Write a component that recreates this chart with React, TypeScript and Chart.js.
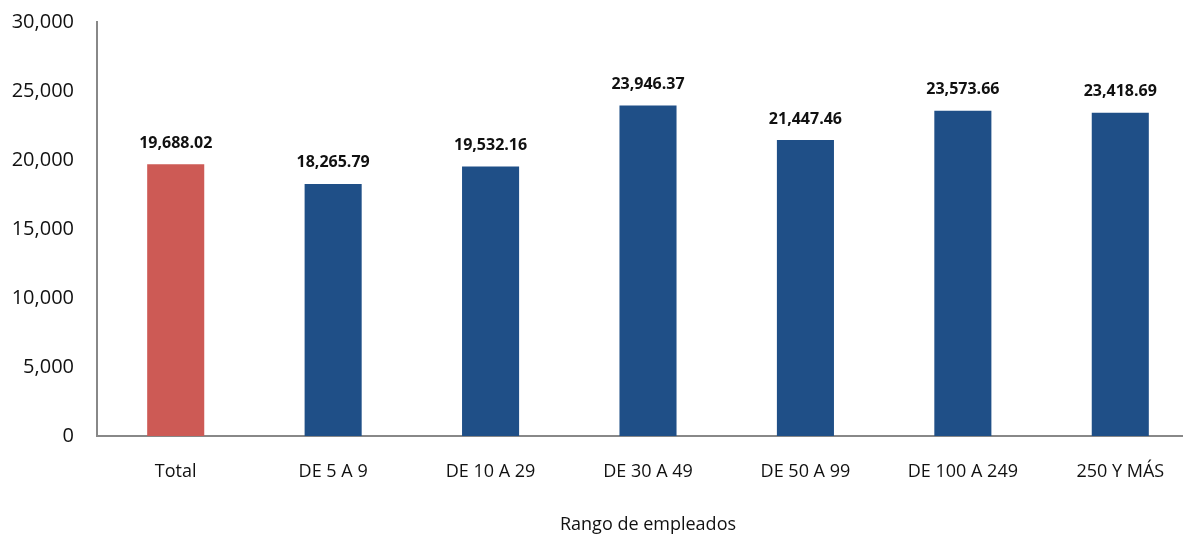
import React, { useEffect, useRef } from "react";
import { Chart, registerables } from "chart.js";

Chart.register(...registerables);

const categories = ["Total", "DE 5 A 9", "DE 10 A 29", "DE 30 A 49", "DE 50 A 99", "DE 100 A 249", "250 Y MÁS"];
const values = [19688.02, 18265.79, 19532.16, 23946.37, 21447.46, 23573.66, 23418.69];
const barColors = ["#CD5A55", "#1F4F87", "#1F4F87", "#1F4F87", "#1F4F87", "#1F4F87", "#1F4F87"];
const yMax = 30000;
const yStep = 5000;
const xTitle = "Rango de empleados";

const FONT = "'Open Sans', 'Liberation Sans', sans-serif";

const fmt = (v: number, d: number) =>
  v.toLocaleString("en-US", { minimumFractionDigits: d, maximumFractionDigits: d });

const labelPlugin = {
  id: "valueLabels",
  afterDatasetsDraw(chart: any) {
    const ctx = chart.ctx;
    const meta = chart.getDatasetMeta(0);
    ctx.save();
    ctx.font = `bold 16px ${FONT}`;
    ctx.fillStyle = "#111";
    ctx.textAlign = "center";
    ctx.textBaseline = "middle";
    meta.data.forEach((el: any, i: number) => {
      ctx.fillText(fmt(values[i], 2), el.x, el.y - 21);
    });
    ctx.restore();
  },
};

export default function App() {
  const ref = useRef<HTMLCanvasElement>(null);
  useEffect(() => {
    if (!ref.current) return;
    const chart = new Chart(ref.current, {
      type: "bar",
      data: {
        labels: categories,
        datasets: [
          {
            data: values,
            backgroundColor: barColors,
            barPercentage: 0.3625,
            categoryPercentage: 1,
          },
        ],
      },
      options: {
        animation: false,
        responsive: false,
        maintainAspectRatio: false,
        layout: { padding: { top: 22, right: 1, left: 0, bottom: 0 } },
        plugins: { legend: { display: false }, tooltip: { enabled: false } },
        scales: {
          x: {
            grid: { display: false, drawTicks: false },
            border: { display: true, color: "#888", width: 2 },
            ticks: { color: "#111", font: { size: 18, family: FONT }, padding: 25 },
            title: {
              display: true,
              text: xTitle,
              color: "#111",
              font: { size: 18, family: FONT },
              padding: { top: 0, bottom: 0 },
            },
            afterFit: (s: any) => {
              s.height = 100;
              s.paddingLeft = 0;
              s.paddingRight = 0;
            },
          },
          y: {
            min: 0,
            max: yMax,
            grid: { display: false, drawTicks: false },
            border: { display: true, color: "#888", width: 2 },
            ticks: {
              stepSize: yStep,
              color: "#111",
              font: { size: 20, family: FONT },
              padding: 23,
              callback: (v: any) => fmt(Number(v), 0),
            },
            afterFit: (s: any) => {
              s.width = 97;
              s.paddingTop = 0;
              s.paddingBottom = 0;
            },
          },
        },
      },
      plugins: [labelPlugin],
    });
    return () => chart.destroy();
  }, []);
  return (
    <div style={{ position: "fixed", left: 0, top: 0, width: 1183, height: 536, background: "#fff", overflow: "hidden" }}>
      <canvas ref={ref} width={1200} height={536} style={{ width: 1200, height: 536, display: "block" }} />
    </div>
  );
}
